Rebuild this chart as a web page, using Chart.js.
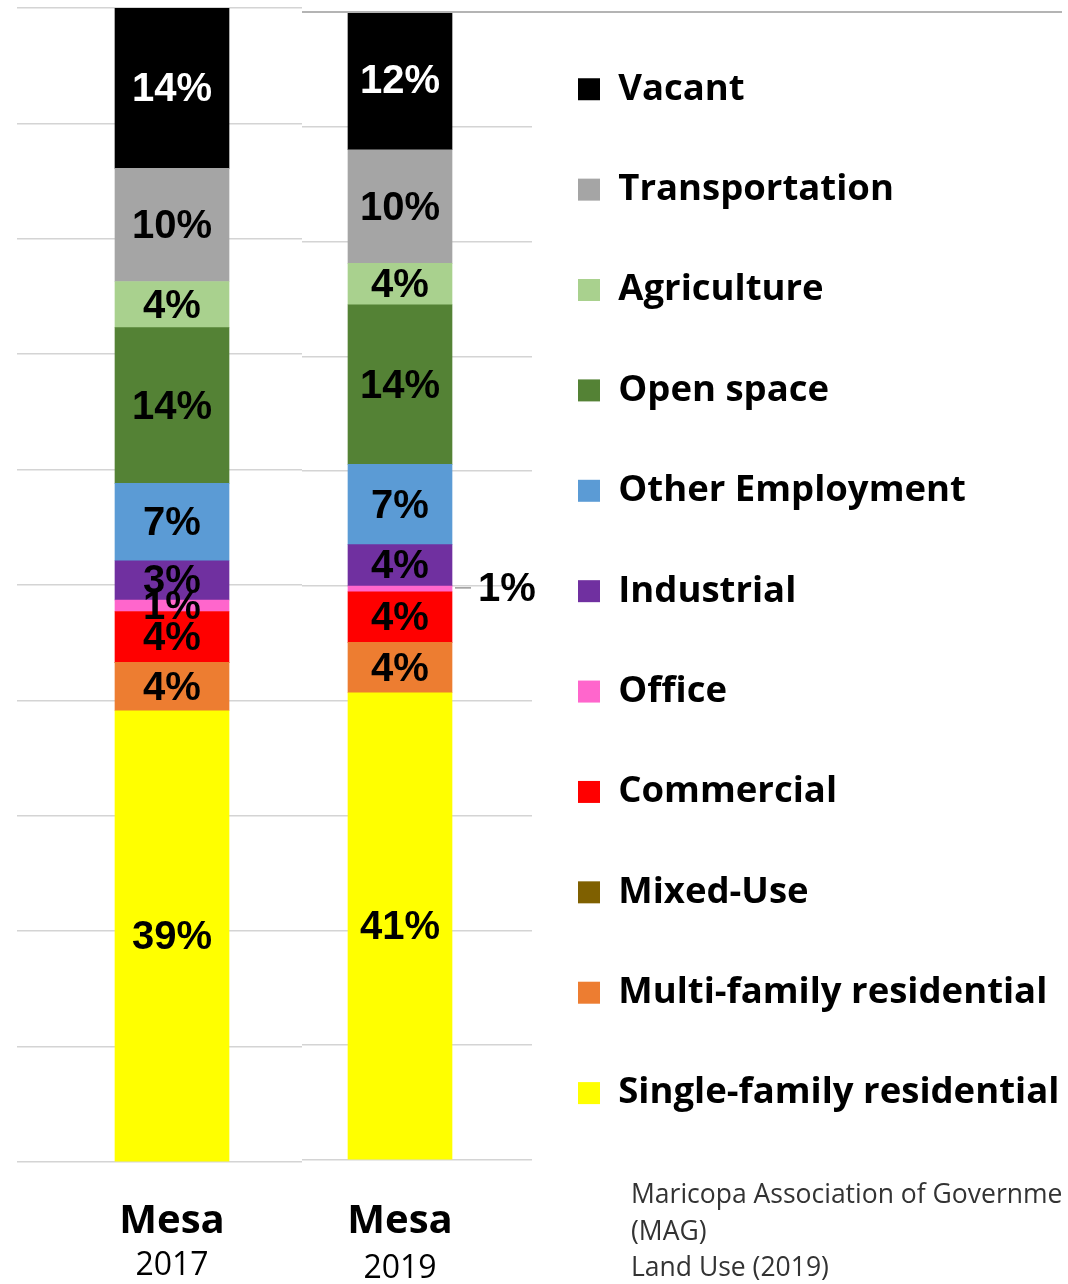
<!DOCTYPE html>
<html>
<head>
<meta charset="utf-8">
<script src="https://cdn.jsdelivr.net/npm/chart.js@4.4.1/dist/chart.umd.min.js"></script>
<style>
    html, body { margin: 0; padding: 0; background: #fff; }
    body { width: 1068px; height: 1284px; position: relative; overflow: hidden; }
    #left { position: absolute; left: 17px; top: 0; }
    #rightWrap { position: absolute; left: 302px; top: 0; width: 766px; height: 1284px; overflow: hidden; background: #fff; }
    #right { position: absolute; left: -34px; top: 0; }
    #topLine { position: absolute; left: 302px; top: 11px; width: 760px; height: 2px; background: #b4b4b4; }
    #source { position: absolute; left: 631px; top: 1175px; width: 431px; font: 26.5px 'Open Sans'; line-height: 36.5px; color: #333; white-space: nowrap; overflow: hidden; }
</style>
</head>
<body>
<canvas id="left" width="310" height="1284"></canvas>
<div id="rightWrap"><canvas id="right" width="796" height="1284"></canvas></div>
<div id="topLine"></div>
<div id="source">Maricopa Association of Governments<br>(MAG)<br>Land Use (2019)</div>
<script>
'use strict'

// stacked from the bottom of the bar to the top
const categories = ['Single-family residential', 'Multi-family residential', 'Mixed-Use', 'Commercial', 'Office',
    'Industrial', 'Other Employment', 'Open space', 'Agriculture', 'Transportation', 'Vacant'];
const values2017 = [39.1, 4.2, 0, 4.4, 1.0, 3.4, 6.7, 13.5, 4.0, 9.8, 14.0];
const values2019 = [40.7, 4.4, 0, 4.4, 0.5, 3.6, 7.0, 13.9, 3.6, 9.9, 12.1];
const placeName = 'Mesa';
const years = ['2017', '2019'];

const colors = ['#ffff00', '#ed7d31', '#7f6000', '#ff0000', '#ff66cc', '#7030a0', '#5b9bd5', '#548235', '#a9d18e', '#a5a5a5', '#000000'];
const labelColors = categories.map(c => c === 'Vacant' ? '#ffffff' : '#000000');

// percent labels on each segment, tiny ones go outside with a leader line
const barLabels = {
    id: 'barLabels',
    afterDatasetsDraw(chart) {
        const ctx = chart.ctx;
        ctx.save();
        ctx.font = 'bold 40px "Liberation Sans", Arial, sans-serif';
        ctx.textBaseline = 'middle';
        chart.data.datasets.forEach((ds, i) => {
            const meta = chart.getDatasetMeta(i);
            meta.data.forEach((bar, j) => {
                const v = ds.data[j];
                if (!v) return;
                const text = Math.round(v) + '%';
                const cy = (bar.y + bar.base) / 2;
                if (v < 0.8) {
                    const x0 = bar.x + bar.width / 2 + 3;
                    ctx.strokeStyle = '#999';
                    ctx.lineWidth = 1.5;
                    ctx.beginPath();
                    ctx.moveTo(x0, cy - 1);
                    ctx.lineTo(x0 + 16, cy - 1);
                    ctx.stroke();
                    ctx.fillStyle = '#000';
                    ctx.textAlign = 'left';
                    ctx.fillText(text, x0 + 23, cy + 1);
                } else {
                    ctx.fillStyle = ds.labelColor;
                    ctx.textAlign = 'center';
                    ctx.fillText(text, bar.x, cy + 2);
                }
            });
        });
        ctx.restore();
    }
};

function makeDatasets(values, thickness) {
    return categories.map((name, i) => ({
        label: name,
        data: [values[i]],
        backgroundColor: colors[i],
        labelColor: labelColors[i],
        barThickness: thickness,
        borderWidth: 0
    }));
}

function makeOptions(cfg) {
    return {
        responsive: false,
        animation: false,
        layout: { padding: { top: cfg.top, left: 0, right: 0, bottom: 0 } },
        plugins: {
            tooltip: { enabled: false },
            legend: cfg.legend
        },
        scales: {
            x: {
                stacked: true,
                grid: { display: false },
                border: { display: false },
                ticks: {
                    padding: cfg.tickPad,
                    color: '#000',
                    font: { family: 'Open Sans', weight: 'bold', size: 40, lineHeight: 1.2 }
                },
                title: {
                    display: true,
                    text: cfg.year,
                    color: '#000',
                    padding: { top: 0, bottom: cfg.titlePad },
                    font: { family: 'Open Sans', size: 32, lineHeight: 1.2 }
                },
                afterFit: (scale) => { scale.height = cfg.axisHeight; }
            },
            y: {
                stacked: true,
                min: 0,
                max: 100,
                ticks: { display: false, stepSize: 10 },
                grid: { color: '#d4d4d4', lineWidth: 1.5, drawTicks: false },
                border: { display: false }
            }
        }
    };
}

const chart2017 = new Chart(document.getElementById('left'), {
    type: 'bar',
    data: { labels: [placeName], datasets: makeDatasets(values2017, 114) },
    options: makeOptions({ top: 8, axisHeight: 122, tickPad: 28, titlePad: -1, year: years[0], legend: { display: false } }),
    plugins: [barLabels]
});

const chart2019 = new Chart(document.getElementById('right'), {
    type: 'bar',
    data: { labels: [placeName], datasets: makeDatasets(values2019, 104) },
    options: makeOptions({
        top: 12, axisHeight: 124, tickPad: 30, titlePad: -4, year: years[1],
        legend: {
            display: true,
            position: 'right',
            align: 'start',
            reverse: true,
            maxWidth: 532,
            title: { display: true, text: '', padding: 0, font: { size: 13, lineHeight: 1 } },
            labels: {
                boxWidth: 22,
                boxHeight: 22,
                padding: 46,
                color: '#000',
                font: { family: 'Open Sans', weight: 'bold', size: 36.5, lineHeight: 1.49 },
                // one-line arrays so the row height follows the font line height
                generateLabels: (chart) => Chart.defaults.plugins.legend.labels.generateLabels(chart)
                    .map(item => Object.assign(item, { text: [item.text], lineWidth: 0 }))
            }
        }
    }),
    plugins: [barLabels]
});
</script>
</body>
</html>
